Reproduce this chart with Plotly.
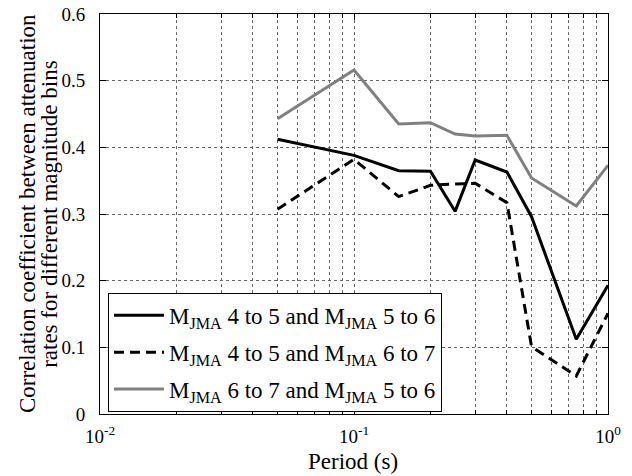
import plotly.graph_objects as go

periods = [0.05, 0.1, 0.15, 0.2, 0.25, 0.3, 0.4, 0.5, 0.75, 1.0]
corr_45_56 = [0.412, 0.388, 0.365, 0.364, 0.304, 0.381, 0.363, 0.296, 0.112, 0.193]
corr_45_67 = [0.307, 0.382, 0.326, 0.343, 0.345, 0.346, 0.317, 0.101, 0.057, 0.151]
corr_67_56 = [0.443, 0.516, 0.435, 0.437, 0.420, 0.417, 0.418, 0.354, 0.312, 0.373]

names = [
    "M<sub>JMA</sub> 4 to 5 and M<sub>JMA</sub> 5 to 6",
    "M<sub>JMA</sub> 4 to 5 and M<sub>JMA</sub> 6 to 7",
    "M<sub>JMA</sub> 6 to 7 and M<sub>JMA</sub> 5 to 6",
]

xtick_vals = [0.01, 0.1, 1]
xtick_text = ["10<sup>-2</sup>", "10<sup>-1</sup>", "10<sup>0</sup>"]
ytick_vals = [0, 0.1, 0.2, 0.3, 0.4, 0.5, 0.6]
ytick_text = ["0", "0.1", "0.2", "0.3", "0.4", "0.5", "0.6"]
x_title = "Period (s)"
y_title_lines = ["Correlation coefficient between attenuation",
                 "rates for different magnitude bins"]

FONT = "Liberation Serif"

fig = go.Figure()
fig.add_trace(go.Scatter(x=periods, y=corr_45_56, mode="lines", name=names[0],
                         legendgroup="a", line=dict(color="black", width=3)))
fig.add_trace(go.Scatter(x=periods, y=corr_45_67, mode="lines", name=names[1],
                         legendgroup="b", line=dict(color="black", width=3, dash="10px,6px")))
fig.add_trace(go.Scatter(x=periods, y=corr_67_56, mode="lines", name=names[2],
                         legendgroup="c", line=dict(color="#808080", width=3)))

grid = dict(showgrid=True, gridcolor="#666", gridwidth=1, griddash="dot")

fig.update_layout(
    width=632, height=476,
    margin=dict(l=100, r=24, t=14, b=62, autoexpand=False),
    paper_bgcolor="white", plot_bgcolor="white",
    font=dict(family=FONT, size=20, color="black"),
    showlegend=True,
    legend=dict(x=0.0157, y=0.303, xanchor="left", yanchor="top",
                bordercolor="black", borderwidth=1, bgcolor="white",
                font=dict(family=FONT, size=23), tracegroupgap=4,
                itemwidth=50),
    xaxis=dict(type="log", range=[-2, 0], tickvals=xtick_vals, ticktext=xtick_text,
               tickfont=dict(size=19),
               ticks="inside", ticklen=6, tickcolor="black",
               showline=True, linecolor="black", linewidth=1, mirror="allticks",
               ticklabelstandoff=5,
               minor=dict(ticks="inside", ticklen=4, tickcolor="black",
                          showgrid=True, gridcolor="#666", griddash="dot",
                          tickvals=[0.02, 0.03, 0.04, 0.05, 0.06, 0.07, 0.08, 0.09,
                                    0.2, 0.3, 0.4, 0.5, 0.6, 0.7, 0.8, 0.9]),
               zeroline=False, **grid),
    yaxis=dict(range=[0, 0.6], tickvals=ytick_vals, ticktext=ytick_text,
               tickfont=dict(size=19),
               ticks="inside", ticklen=6, tickcolor="black",
               showline=True, linecolor="black", linewidth=1, mirror="allticks",
               ticklabelstandoff=10,
               zeroline=False, **grid),
    annotations=[
        dict(text=x_title, xref="paper", yref="paper", x=0.498, y=-0.118,
             xanchor="center", yanchor="middle", showarrow=False,
             font=dict(family=FONT, size=23)),
        dict(text=y_title_lines[0], xref="paper", yref="paper", x=-0.1435, y=0.5,
             xanchor="center", yanchor="middle", showarrow=False, textangle=-90,
             font=dict(family=FONT, size=23)),
        dict(text=y_title_lines[1], xref="paper", yref="paper", x=-0.1007, y=0.5,
             xanchor="center", yanchor="middle", showarrow=False, textangle=-90,
             font=dict(family=FONT, size=23)),
    ],
)

fig.write_html("out.html")
